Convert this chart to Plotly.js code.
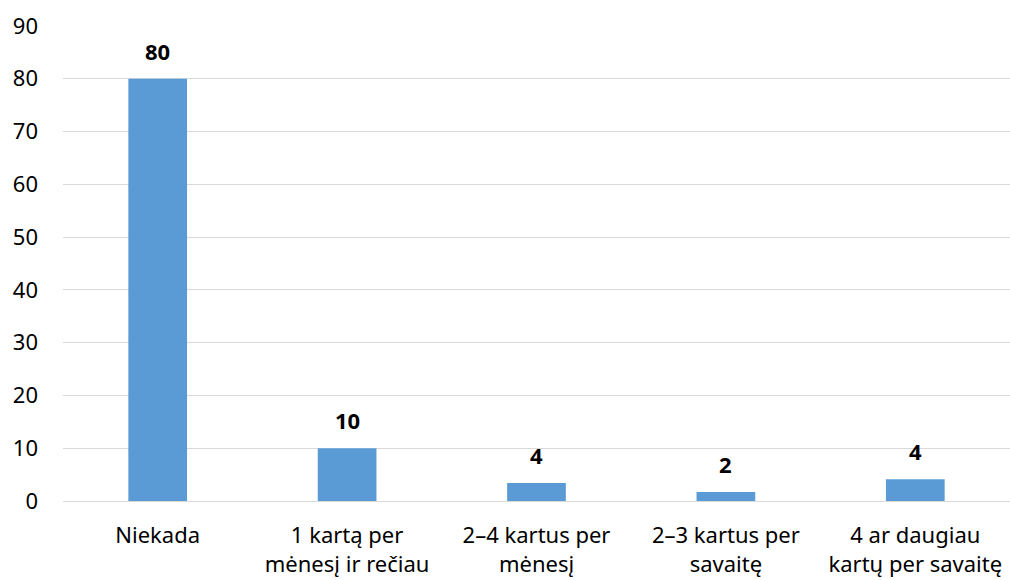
<!DOCTYPE html>
<html>
<head>
<meta charset="utf-8">
<script src="https://cdn.plot.ly/plotly-3.0.1.min.js"></script>
<style>html,body{margin:0;padding:0;background:#fff;}#chart{width:1010px;height:580px;}</style>
</head>
<body>
<div id="chart"></div>
<script>
const categories = ["Niekada", "1 kartą per<br>mėnesį ir rečiau", "2–4 kartus per<br>mėnesį", "2–3 kartus per<br>savaitę", "4 ar daugiau<br>kartų per savaitę"];
const values = [80, 10, 3.4, 1.7, 4.1];
const labels = ["80", "10", "4", "2", "4"];
const yTicks = [0, 10, 20, 30, 40, 50, 60, 70, 80, 90];

const font = "Noto Sans, sans-serif";

const trace = {
  type: "bar",
  x: categories,
  y: values,
  marker: {color: "#5b9bd5"},
  width: 0.31,
  hoverinfo: "none"
};

const annotations = categories.map((c, i) => ({
  x: c, y: values[i], text: labels[i], showarrow: false,
  yanchor: "bottom", yshift: 11,
  font: {family: font, size: 22, color: "#000", weight: "bold"}
}));

const layout = {
  width: 1010, height: 580,
  margin: {l: 63, r: 0, t: 26, b: 79},
  paper_bgcolor: "#fff", plot_bgcolor: "#fff",
  showlegend: false,
  xaxis: {
    type: "category",
    tickfont: {family: font, size: 22, color: "#000"},
    showgrid: false, showline: true, linecolor: "#d9d9d9", linewidth: 1,
    ticks: "", ticklabelstandoff: 15, zeroline: false
  },
  yaxis: {
    range: [0, 90], tickvals: yTicks,
    tickfont: {family: font, size: 22, color: "#000"},
    showgrid: true, gridcolor: "#d9d9d9", gridwidth: 1,
    showline: false, zeroline: false, ticks: "",
    ticklabelstandoff: 24
  },
  annotations: annotations
};

Plotly.newPlot("chart", [trace], layout, {displayModeBar: false, staticPlot: true});
</script>
</body>
</html>
